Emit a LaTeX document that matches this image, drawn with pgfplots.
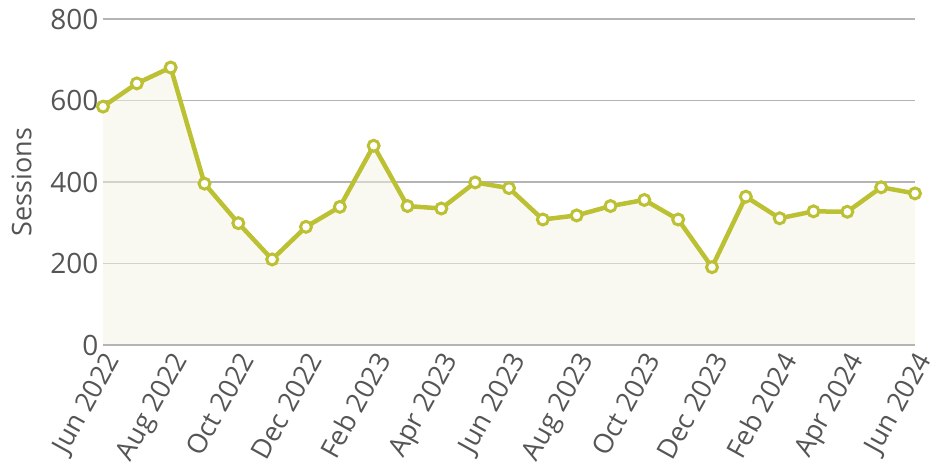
\documentclass[border=0pt]{standalone}
\usepackage{pgfplots}
\pgfplotsset{compat=1.18}
\usepackage{fontspec}
\setmainfont{Open Sans}
\definecolor{lc}{HTML}{BCC033}
\definecolor{fc}{HTML}{F3F3E3}
\definecolor{gc}{HTML}{B4B4B4}
\definecolor{tc}{HTML}{555555}
\begin{document}
\begin{tikzpicture}
\path[use as bounding box] (-103pt,-122pt) rectangle (827pt,345pt);
\begin{axis}[
  at={(0,0)}, anchor=south west,
  scale only axis, width=812pt, height=326pt,
  xmin=0, xmax=24, ymin=0, ymax=800,
  axis line style={draw=none},
  ytick={0,200,400,600,800},
  xtick={0,2,...,24},
  xticklabels={Jun 2022,Aug 2022,Oct 2022,Dec 2022,Feb 2023,Apr 2023,Jun 2023,Aug 2023,Oct 2023,Dec 2023,Feb 2024,Apr 2024,Jun 2024},
  ymajorgrids, grid style={gc, line width=1.3pt},
  major tick length=0pt,
  tick label style={font=\fontsize{28}{32}\selectfont, text=tc},
  /pgf/number format/assume math mode=true,
  yticklabel style={xshift=-1pt},
  xticklabel style={font=\fontsize{27}{30}\selectfont, rotate=61, anchor=north east, xshift=-1pt, yshift=1pt},
  ylabel={Sessions}, ylabel style={font=\fontsize{27}{30}\selectfont, text=tc, yshift=12pt},
  clip=false,
]
\addplot[draw=none, fill=fc, fill opacity=0.5] coordinates {
(0,585)(1,642)(2,681)(3,396)(4,299)(5,210)(6,290)(7,339)(8,489)(9,341)(10,335)(11,399)(12,385)(13,308)(14,318)(15,341)(16,356)(17,308)(18,191)(19,364)(20,311)(21,328)(22,327)(23,387)(24,372)
} \closedcycle;
\draw[gc, line width=1.3pt] (axis cs:0,0) -- (axis cs:24,0);
\addplot[lc, line width=4.5pt, mark=*, mark options={fill=white, draw=lc, line width=3pt}, mark size=5.5pt] coordinates {
(0,585)(1,642)(2,681)(3,396)(4,299)(5,210)(6,290)(7,339)(8,489)(9,341)(10,335)(11,399)(12,385)(13,308)(14,318)(15,341)(16,356)(17,308)(18,191)(19,364)(20,311)(21,328)(22,327)(23,387)(24,372)
};
\end{axis}
\end{tikzpicture}
\end{document}
